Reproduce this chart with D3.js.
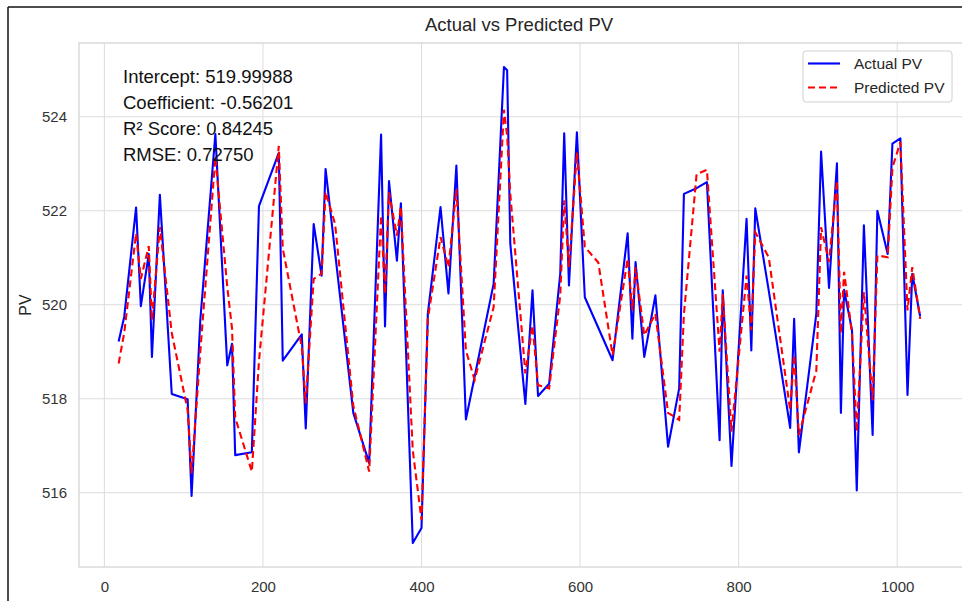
<!DOCTYPE html>
<html>
<head>
<meta charset="utf-8">
<script src="https://cdn.jsdelivr.net/npm/d3@7"></script>
<style>
  body { margin: 0; background: #fff; }
  text { font-family: Arial, "Liberation Sans", sans-serif; }
</style>
</head>
<body>
<script>
// test sample index (x) and PV values
var sampleIndex = [18,25,40,46,56,60,70,85,105,110,121,140,155,161,165,186,195,220,225,249,
  254,264,274,279,291,314,334,349,354,359,369,374,389,400,408,424,434,444,456,467,491,
  504,508,512,531,540,547,561,575,580,586,596,606,623,641,660,666,670,681,695,711,
  725,731,747,760,776,780,791,810,816,821,838,865,870,876,898,904,914,924,929,933,
  943,949,958,969,975,988,994,1004,1013,1019,1029];

var actualPV = [519.22,519.74,522.07,519.97,521.08,518.89,522.34,518.10,517.99,515.93,519.67,523.63,518.71,519.17,516.80,516.86,522.10,523.23,518.81,519.37,
  517.37,521.72,520.62,522.89,521.11,517.70,516.63,523.62,519.54,522.63,520.94,522.16,514.93,515.25,519.81,522.08,520.24,522.96,517.56,518.47,520.45,
  525.06,524.99,521.30,517.89,520.31,518.06,518.32,520.66,523.65,520.41,523.67,520.16,519.51,518.82,521.52,519.28,520.91,518.89,520.20,516.98,
  518.22,522.36,522.48,522.61,517.12,520.31,516.57,521.83,519.03,522.05,520.30,517.38,519.70,516.86,519.81,523.26,520.36,523.01,517.70,520.32,
  519.46,516.05,521.69,517.23,522.00,521.08,523.43,523.54,518.08,520.66,519.75];

var predictedPV = [518.75,519.40,521.52,520.55,521.25,519.67,521.65,519.40,517.76,516.41,519.00,523.14,520.38,519.50,517.60,516.45,518.80,523.38,521.20,519.10,
  517.90,520.55,520.66,522.40,521.72,517.85,516.45,521.90,520.24,522.39,521.47,522.08,516.90,515.42,519.70,521.44,520.80,522.46,519.03,518.40,519.95,
  524.15,523.60,522.36,518.54,519.56,518.29,518.22,520.20,522.22,520.80,523.24,521.23,520.90,518.93,520.98,519.88,520.80,519.35,519.81,517.70,
  517.55,519.80,522.78,522.87,519.00,520.23,517.30,520.62,519.46,521.54,521.01,517.76,518.93,517.23,518.60,521.65,520.91,522.64,519.39,520.70,
  519.39,517.30,520.27,517.97,521.05,521.01,522.92,523.46,519.88,520.80,519.70];

var xTicks = [0,200,400,600,800,1000];
var yTicks = [516,518,520,522,524];
var statLines = ["Intercept: 519.99988","Coefficient: -0.56201","R\u00b2 Score: 0.84245","RMSE: 0.72750"];
var legendNames = ["Actual PV","Predicted PV"];

var plotLeft = 79, plotRight = 963, plotTop = 43, plotBottom = 567;

var svg = d3.select("body").append("svg")
            .attr("width",962)
            .attr("height",601);

var x = d3.scaleLinear().domain([-32,1083]).range([plotLeft,plotRight]);
var y = d3.scaleLinear().domain([514.42,525.57]).range([plotBottom,plotTop]);

// screenshot frame
svg.append("line").attr("x1",8).attr("y1",7).attr("x2",8).attr("y2",601)
   .attr("stroke","#111").attr("stroke-width",1.5);
svg.append("line").attr("x1",8).attr("y1",7).attr("x2",962).attr("y2",7)
   .attr("stroke","#111").attr("stroke-width",1.5);

// grid
svg.selectAll("line.vgrid")
    .data(xTicks)
    .enter().append("line")
              .attr("class","vgrid")
              .attr("x1",function(d){return x(d);})
              .attr("x2",function(d){return x(d);})
              .attr("y1",plotTop)
              .attr("y2",plotBottom)
              .attr("stroke","#dcdcdc")
              .attr("stroke-width",1);

svg.selectAll("line.hgrid")
    .data(yTicks)
    .enter().append("line")
              .attr("class","hgrid")
              .attr("x1",plotLeft)
              .attr("x2",plotRight)
              .attr("y1",function(d){return y(d);})
              .attr("y2",function(d){return y(d);})
              .attr("stroke","#dcdcdc")
              .attr("stroke-width",1);

// spines
svg.append("rect")
    .attr("x",plotLeft).attr("y",plotTop)
    .attr("width",plotRight-plotLeft).attr("height",plotBottom-plotTop)
    .attr("fill","none")
    .attr("stroke","#d0d0d0")
    .attr("stroke-width",1.2);

// axes (labels only, seaborn style)
svg.append("g")
    .attr("transform","translate(0,"+plotBottom+")")
    .call(d3.axisBottom(x).tickValues(xTicks).tickSize(0).tickPadding(14).tickFormat(d3.format("d")));
svg.append("g")
    .attr("transform","translate("+plotLeft+",0)")
    .call(d3.axisLeft(y).tickValues(yTicks).tickSize(0).tickPadding(12).tickFormat(d3.format("d")));
svg.selectAll(".domain").remove();
svg.selectAll(".tick text")
    .attr("font-size","15px")
    .attr("font-family","Arial, 'Liberation Sans', sans-serif")
    .attr("fill","#333");

// lines
var pvLine = d3.line()
    .x(function(d,i){return x(sampleIndex[i]);})
    .y(function(d){return y(d);});

svg.append("path")
    .datum(actualPV)
    .attr("d",pvLine)
    .attr("fill","none")
    .attr("stroke","#0000ff")
    .attr("stroke-width",2.1)
    .attr("stroke-linejoin","round");

svg.append("path")
    .datum(predictedPV)
    .attr("d",pvLine)
    .attr("fill","none")
    .attr("stroke","#ff0000")
    .attr("stroke-width",2.1)
    .attr("stroke-dasharray","7,4");

// title and y label
svg.append("text")
    .attr("x",(plotLeft+plotRight)/2 - 2)
    .attr("y",31)
    .attr("text-anchor","middle")
    .attr("font-size","18.5px")
    .attr("fill","#262626")
    .text("Actual vs Predicted PV");

svg.append("text")
    .attr("transform","translate(31,305) rotate(-90)")
    .attr("text-anchor","middle")
    .attr("font-size","16px")
    .attr("fill","#262626")
    .text("PV");

// regression stats
svg.selectAll("text.stat")
    .data(statLines)
    .enter().append("text")
              .attr("class","stat")
              .attr("x",123)
              .attr("y",function(d,i){return 83+i*26;})
              .attr("font-size","18.5px")
              .attr("fill","#111")
              .text(function(d){return d;});

// legend
var legend = svg.append("g");
legend.append("rect")
    .attr("x",803).attr("y",51)
    .attr("width",149).attr("height",51)
    .attr("rx",3)
    .attr("fill","#fff")
    .attr("fill-opacity",0.8)
    .attr("stroke","#d0d0d0");
legend.selectAll("line")
    .data(legendNames)
    .enter().append("line")
              .attr("x1",808).attr("x2",840)
              .attr("y1",function(d,i){return 63.5+i*24;})
              .attr("y2",function(d,i){return 63.5+i*24;})
              .attr("stroke",function(d,i){return i==0 ? "#0000ff" : "#ff0000";})
              .attr("stroke-width",2.1)
              .attr("stroke-dasharray",function(d,i){return i==0 ? null : "7,4";});
legend.selectAll("text")
    .data(legendNames)
    .enter().append("text")
              .attr("x",854)
              .attr("y",function(d,i){return 69+i*24;})
              .attr("font-size","15.5px")
              .attr("fill","#262626")
              .text(function(d){return d;});
</script>
</body>
</html>
